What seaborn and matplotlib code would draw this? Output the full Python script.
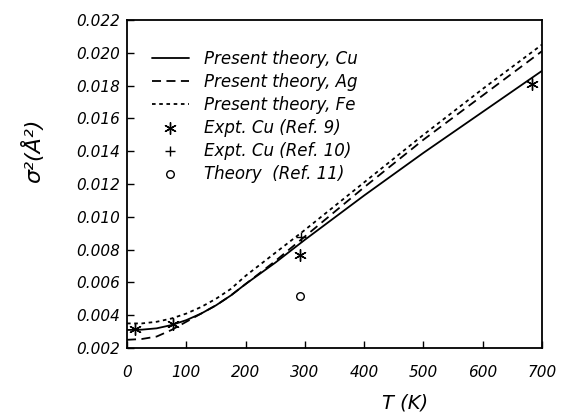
import numpy as np
import pandas as pd
import matplotlib
matplotlib.use('Agg')
import matplotlib.pyplot as plt
import seaborn as sns

sns.set_style('ticks')
plt.rcParams['font.family'] = ['DejaVu Sans']
plt.rcParams['font.style'] = 'italic'
plt.rcParams['text.color'] = 'black'
plt.rcParams['axes.labelcolor'] = 'black'

# temperature grid (K) for the theory curves
T_theory = [0, 25, 50, 75, 100, 125, 150, 175, 200, 250, 300, 400, 500, 600, 700]
sigma_cu = [0.0031, 0.00312, 0.0032, 0.0034, 0.0037, 0.0041, 0.0046, 0.0052, 0.0059,
            0.0072, 0.0086, 0.0113, 0.0139, 0.0164, 0.0189]
sigma_ag = [0.0025, 0.00255, 0.0027, 0.0031, 0.0036, 0.0041, 0.0046, 0.0052, 0.0059,
            0.0073, 0.0088, 0.0118, 0.0147, 0.0174, 0.0201]
sigma_fe = [0.0035, 0.0035, 0.0036, 0.0038, 0.0041, 0.0045, 0.0050, 0.0056, 0.0064,
            0.0078, 0.0092, 0.0121, 0.0150, 0.0178, 0.0205]

# experimental / other theory points
T_ref9 = [13, 78, 292, 683]
sigma_ref9 = [0.00318, 0.00345, 0.00767, 0.0181]
T_ref10 = [293]
sigma_ref10 = [0.00879]
T_ref11 = [292]
sigma_ref11 = [0.00517]

x_ticks = [0, 100, 200, 300, 400, 500, 600, 700]
y_ticks = [0.002, 0.004, 0.006, 0.008, 0.010, 0.012, 0.014, 0.016, 0.018, 0.020, 0.022]

fig = plt.figure(figsize=(5.63, 4.15), dpi=100)
ax = fig.add_axes([0.2256, 0.1614, 0.7371, 0.7904])

sns.lineplot(x=T_theory, y=sigma_cu, ax=ax, color='black', lw=1.3,
             label='Present theory, Cu')
sns.lineplot(x=T_theory, y=sigma_ag, ax=ax, color='black', lw=1.3,
             linestyle=(0, (5, 3)), label='Present theory, Ag')
sns.lineplot(x=T_theory, y=sigma_fe, ax=ax, color='black', lw=1.3,
             linestyle=(0, (2, 2)), label='Present theory, Fe')
sns.scatterplot(x=T_ref9, y=sigma_ref9, ax=ax, marker=(6, 2, 0), s=70,
                color='black', linewidth=1.0, label='Expt. Cu (Ref. 9)')
sns.scatterplot(x=T_ref10, y=sigma_ref10, ax=ax, marker='+', s=50,
                color='black', linewidth=1.0, label='Expt. Cu (Ref. 10)')
sns.scatterplot(x=T_ref11, y=sigma_ref11, ax=ax, marker='o', s=30,
                facecolor='white', edgecolor='black', linewidth=1.0,
                label='Theory  (Ref. 11)')

ax.set_xlim(0, 700)
ax.set_ylim(0.002, 0.022)
ax.set_xticks(x_ticks)
ax.set_yticks(y_ticks)
ax.set_xticklabels([str(t) for t in x_ticks])
ax.set_yticklabels([f'{v:.3f}' for v in y_ticks])
ax.tick_params(direction='in', length=5, width=1, labelsize=11, colors='black')
ax.tick_params(axis='x', pad=12)
ax.tick_params(axis='y', pad=5)
for sp in ax.spines.values():
    sp.set_linewidth(1.3)
    sp.set_color('black')

ax.set_xlabel('T (K)', fontsize=14)
ax.xaxis.set_label_coords(0.67, -0.14)
ax.set_ylabel('σ²(Å²)', fontsize=16)
ax.yaxis.set_label_coords(-0.2, 0.6)

leg = ax.legend(loc='upper left', bbox_to_anchor=(0.04, 0.935), frameon=False,
                fontsize=12, handlelength=2.2, handletextpad=0.9,
                labelspacing=0.3, borderpad=0)

fig.savefig('out.png', dpi=100)
